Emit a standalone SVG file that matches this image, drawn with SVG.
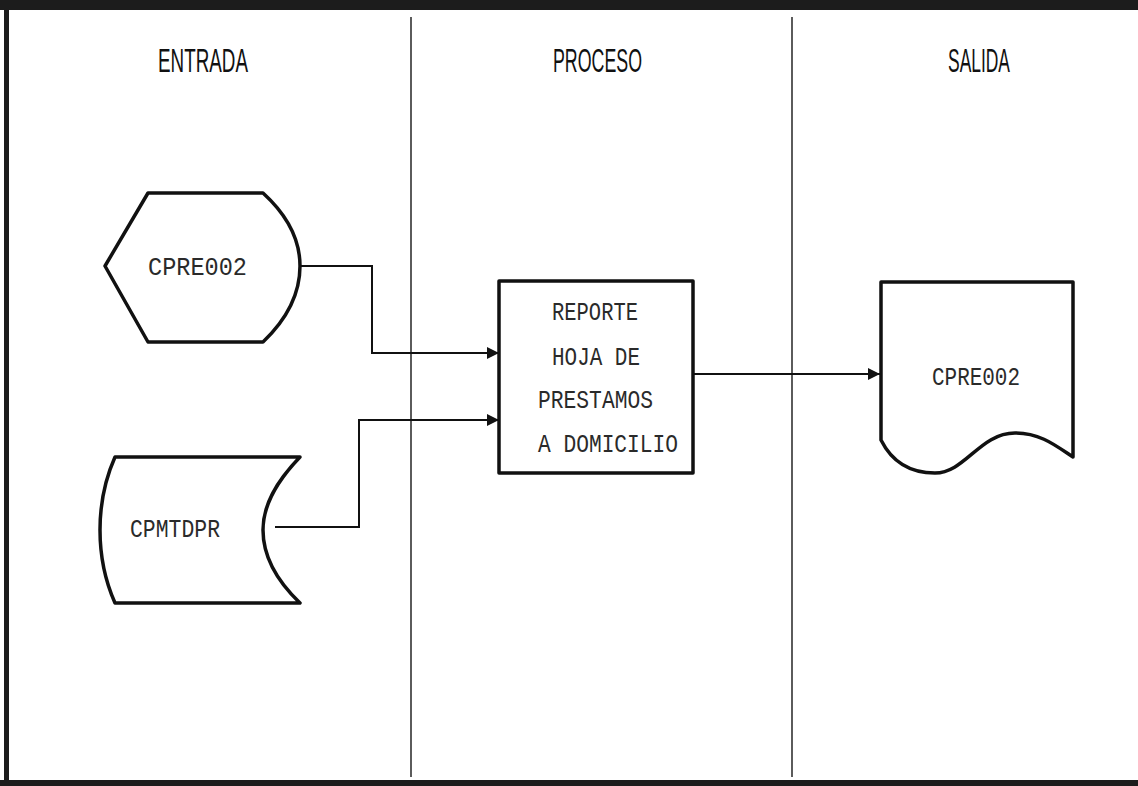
<svg xmlns="http://www.w3.org/2000/svg" width="1138" height="786" viewBox="0 0 1138 786">
<style>
.shape{fill:#fff;stroke:#111;stroke-width:3.5;stroke-linejoin:round}
.conn{fill:none;stroke:#111;stroke-width:2}
.div{stroke:#333;stroke-width:1.6}
.hdr{font-family:"Liberation Sans",Arial,sans-serif;font-size:33px;fill:#111}
.lbl{font-family:"Liberation Mono","DejaVu Sans Mono",monospace;font-size:25px;fill:#2a2a2a}
</style>
<defs>
<marker id="arr" markerWidth="14" markerHeight="14" refX="12" refY="6" orient="auto" markerUnits="userSpaceOnUse">
<path d="M0,0 L12,6 L0,12 Z" fill="#111"/>
</marker>
</defs>
<rect x="0" y="0" width="1138" height="786" fill="#fff"/>
<g id="frame">
<rect x="0" y="0" width="1138" height="10" fill="#1c1c1c"/>
<rect x="4" y="0" width="5" height="786" fill="#1c1c1c"/>
<rect x="0" y="780" width="1138" height="6" fill="#1c1c1c"/>
<line class="div" x1="411" y1="17" x2="411" y2="777"/>
<line class="div" x1="792" y1="17" x2="792" y2="777"/>
</g>
<g id="headers">
<text class="hdr" x="158" y="72" textLength="90" lengthAdjust="spacingAndGlyphs">ENTRADA</text>
<text class="hdr" x="553" y="72" textLength="89" lengthAdjust="spacingAndGlyphs">PROCESO</text>
<text class="hdr" x="948" y="72" textLength="62" lengthAdjust="spacingAndGlyphs">SALIDA</text>
</g>
<g id="connectors">
<path class="conn" d="M300,266 L372,266 L372,353 L499,353" marker-end="url(#arr)"/>
<path class="conn" d="M275,527 L359,527 L359,420 L499,420" marker-end="url(#arr)"/>
<path class="conn" d="M693,374 L880,374" marker-end="url(#arr)"/>
</g>
<g id="node-display-cpre002">
<path class="shape" d="M148,193 L263,193 C286,214 300,238 300,266 C300,294 286,320 263,342 L148,342 L105,266 Z"/>
<text class="lbl" x="148" y="275" textLength="99" lengthAdjust="spacingAndGlyphs">CPRE002</text>
</g>
<g id="node-storage-cpmtdpr">
<path class="shape" d="M115,457 L300,457 C276,482 263,505 263,530 C263,555 276,580 300,603 L115,603 C107,585 100,560 100,530 C100,500 107,475 115,457 Z"/>
<text class="lbl" x="130" y="537" textLength="90" lengthAdjust="spacingAndGlyphs">CPMTDPR</text>
</g>
<g id="node-process">
<rect class="shape" x="499" y="281" width="194" height="192"/>
<text class="lbl" x="552" y="320" textLength="86" lengthAdjust="spacingAndGlyphs">REPORTE</text>
<text class="lbl" x="552" y="365" textLength="88" lengthAdjust="spacingAndGlyphs">HOJA DE</text>
<text class="lbl" x="538" y="408" textLength="115" lengthAdjust="spacingAndGlyphs">PRESTAMOS</text>
<text class="lbl" x="538" y="452" textLength="140" lengthAdjust="spacingAndGlyphs">A DOMICILIO</text>
</g>
<g id="node-document-cpre002">
<path class="shape" d="M881,282 L1073,282 L1073,457 C1055,445 1040,433 1015,433 C980,433 965,473 935,473 C905,473 890,458 881,440 Z"/>
<text class="lbl" x="932" y="385" textLength="88" lengthAdjust="spacingAndGlyphs">CPRE002</text>
</g>
</svg>
